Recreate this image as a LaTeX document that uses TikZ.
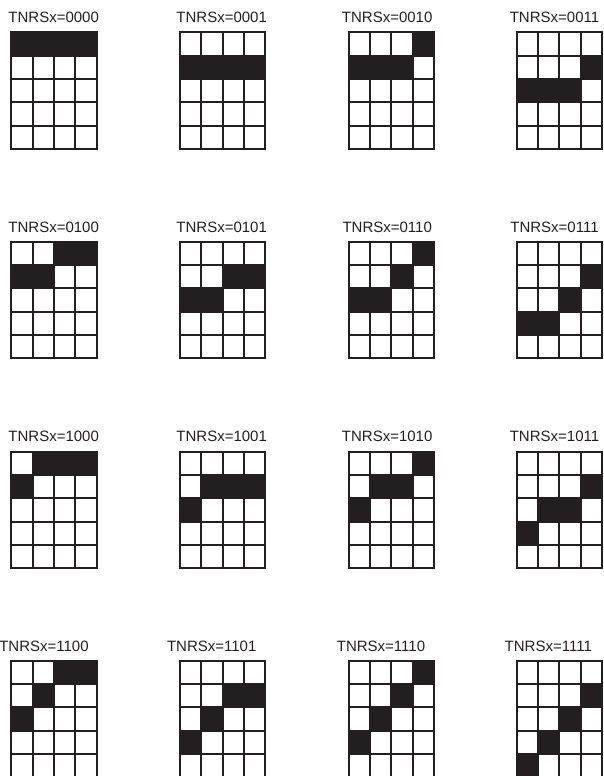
\documentclass[tikz,border=0pt]{standalone}
\usepackage{fontspec}
\setmainfont{Liberation Sans}
\definecolor{ink}{HTML}{231F20}
\begin{document}
\begin{tikzpicture}[x=1pt,y=-1pt,
  gridline/.style={draw=ink,line width=2pt,line cap=rect},
  cellfill/.style={fill=ink},
  lab/.style={anchor=base,inner sep=0pt,text=ink,font=\fontsize{15}{17}\selectfont}]
\useasboundingbox (0,0) rectangle (604,776);
\def\cw{21.35}\def\ch{23.33}
\newcommand\pgrid[3]{%
  \foreach \r/\c in {#3} {\fill[cellfill] (#1+\c*\cw,#2+\r*\ch) rectangle ++(\cw,\ch);}
  \foreach \i in {0,...,4} {\draw[gridline] (#1+\i*\cw,#2) -- ++(0,5*\ch);}
  \foreach \j in {0,...,5} {\draw[gridline] (#1,#2+\j*\ch) -- ++(4*\cw,0);}
}
% row 1
\pgrid{11.3}{32.3}{0/0,0/1,0/2,0/3}
\pgrid{180}{32.3}{1/0,1/1,1/2,1/3}
\pgrid{348.5}{32.3}{0/3,1/0,1/1,1/2}
\pgrid{516.7}{32.3}{1/3,2/0,2/1,2/2}
\node[lab] (l0000) at (53.7,22.3) {TNRSx=0000};
\node[lab] (l0001) at (221.7,22.3) {TNRSx=0001};
\node[lab] (l0010) at (387.2,22.3) {TNRSx=0010};
\node[lab] (l0011) at (554.5,22.3) {TNRSx=0011};
% row 2
\pgrid{11.3}{241.7}{0/2,0/3,1/0,1/1}
\pgrid{180}{241.7}{1/2,1/3,2/0,2/1}
\pgrid{348.5}{241.7}{0/3,1/2,2/0,2/1}
\pgrid{516.7}{241.7}{1/3,2/2,3/0,3/1}
\node[lab] (l0100) at (53.7,232) {TNRSx=0100};
\node[lab] (l0101) at (221.7,232) {TNRSx=0101};
\node[lab] (l0110) at (387.2,232) {TNRSx=0110};
\node[lab] (l0111) at (554.5,232) {TNRSx=0111};
% row 3
\pgrid{11.3}{451.7}{0/1,0/2,0/3,1/0}
\pgrid{180}{451.7}{1/1,1/2,1/3,2/0}
\pgrid{348.5}{451.7}{0/3,1/1,1/2,2/0}
\pgrid{516.7}{451.7}{1/3,2/1,2/2,3/0}
\node[lab] (l1000) at (53.7,441.7) {TNRSx=1000};
\node[lab] (l1001) at (221.7,441.7) {TNRSx=1001};
\node[lab] (l1010) at (387.2,441.7) {TNRSx=1010};
\node[lab] (l1011) at (554.5,441.7) {TNRSx=1011};
% row 4
\pgrid{11.3}{660.7}{0/2,0/3,1/1,2/0}
\pgrid{180}{660.7}{1/2,1/3,2/1,3/0}
\pgrid{348.5}{660.7}{0/3,1/2,2/1,3/0}
\pgrid{516.7}{660.7}{1/3,2/2,3/1,4/0}
\node[lab] (l1100) at (44,651.7) {TNRSx=1100};
\node[lab] (l1101) at (211.7,651.7) {TNRSx=1101};
\node[lab] (l1110) at (381,651.7) {TNRSx=1110};
\node[lab] (l1111) at (548.3,651.7) {TNRSx=1111};
\end{tikzpicture}
\end{document}
